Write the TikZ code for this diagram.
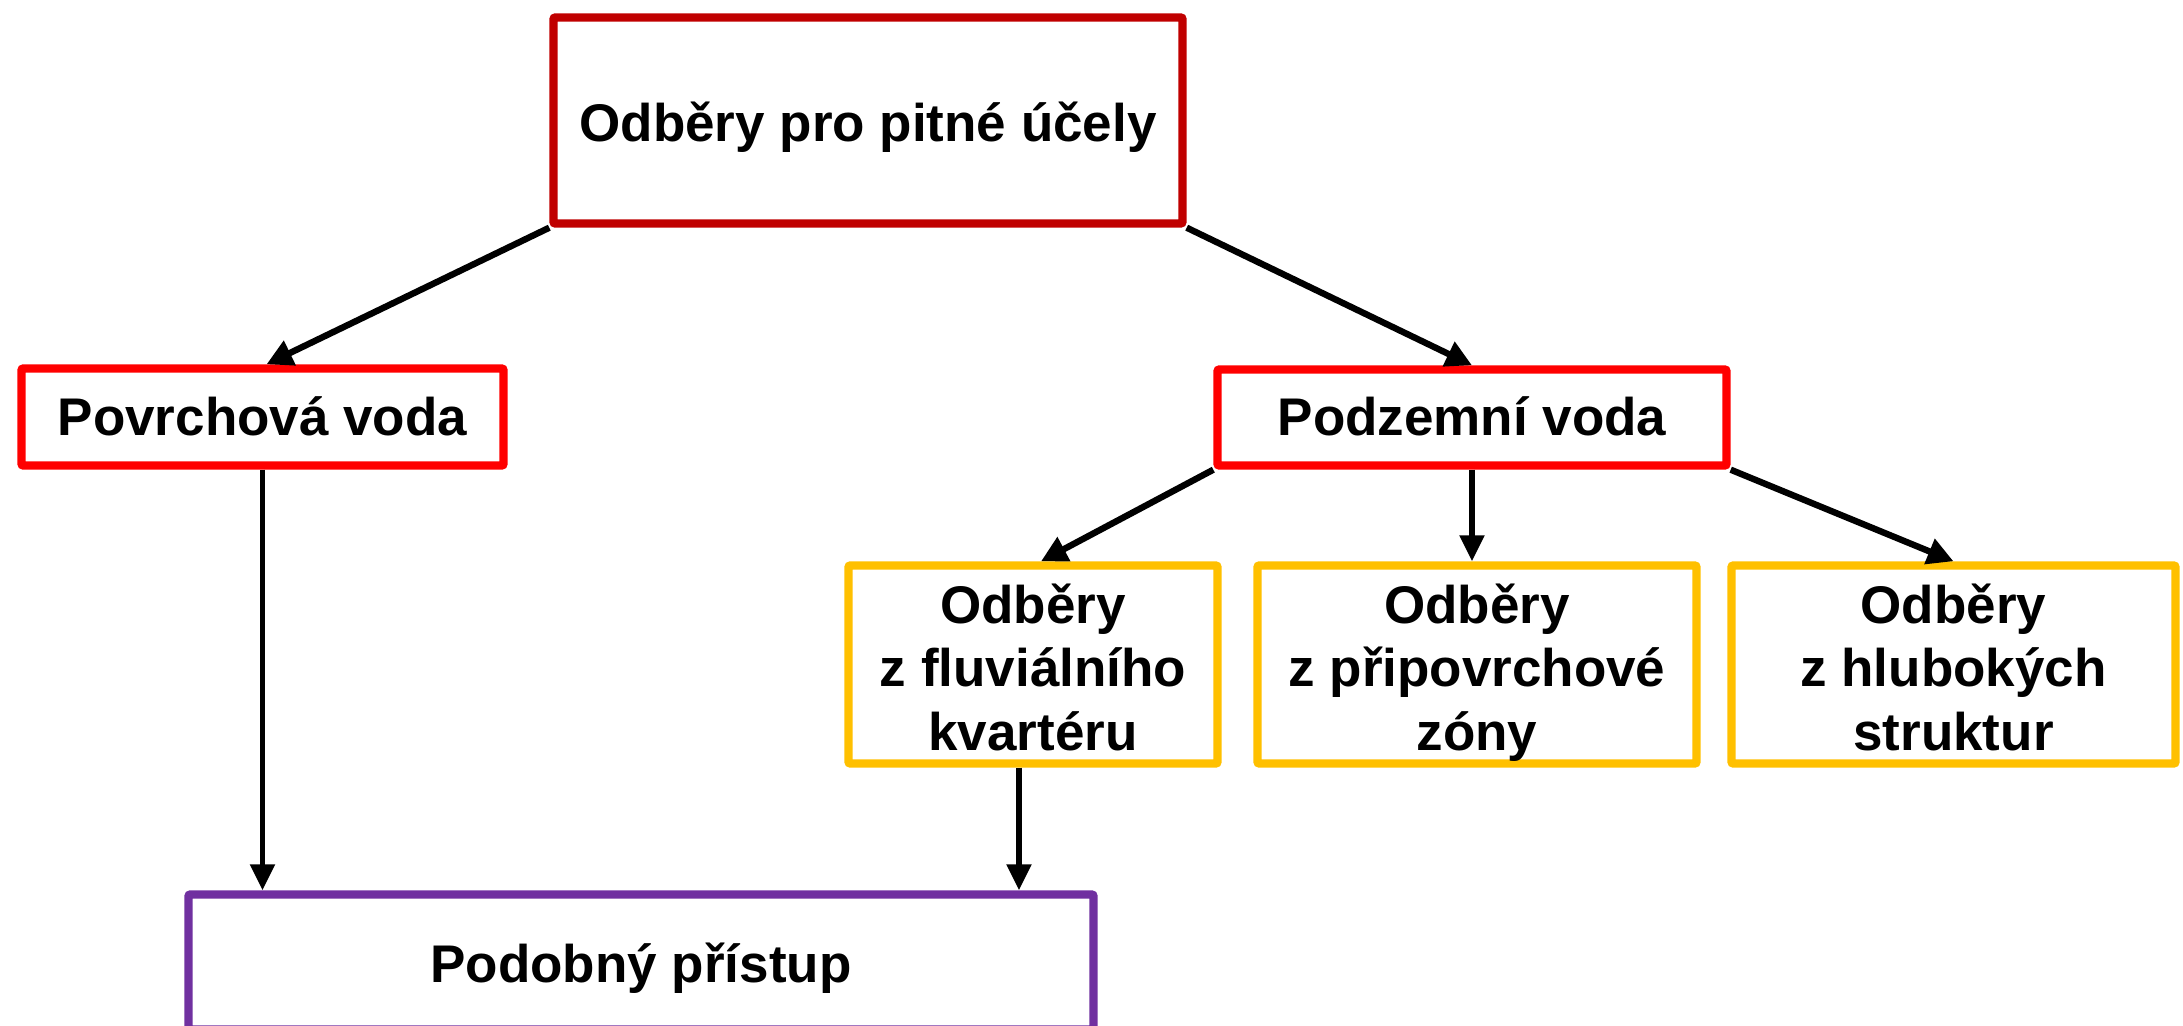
\documentclass[tikz,border=0pt]{standalone}
\usepackage{fontspec}
\setmainfont{Liberation Sans}
\usetikzlibrary{arrows.meta}
\definecolor{topred}{HTML}{C00000}
\definecolor{midred}{HTML}{FF0000}
\definecolor{ambr}{HTML}{FFC000}
\definecolor{purp}{HTML}{7030A0}
\newcommand{\ctext}[2]{\raisebox{-#1}[0pt][0pt]{#2}}
\newcommand{\mtext}[2]{\raisebox{-#1}[0pt][0pt]{\begin{tabular}[b]{@{}c@{}}#2\end{tabular}}}
\begin{document}
\begin{tikzpicture}[x=0.5pt,y=-0.5pt,
  box/.style={draw, line width=4.2pt, fill=white, align=center,
    font=\bfseries\fontsize{26.5}{31.75}\selectfont, inner sep=0pt, rounded corners=1pt},
  conn/.style={line width=3.2pt, -{Triangle[length=13pt,width=13pt]}},
  vconn/.style={line width=2.6pt, -{Triangle[length=13pt,width=12pt]}}]
\useasboundingbox (0,0) rectangle (2183,1026);
\begin{scope}
\clip (0,0) rectangle (2183,1026);
\node[box, draw=topred, minimum width=314.5pt, minimum height=103pt] (top) at (868,120.5) {\ctext{10.75pt}{Odběry pro pitné účely}};
\node[box, draw=midred, minimum width=241pt, minimum height=48.5pt] (pov) at (262.5,417) {\ctext{9pt}{Povrchová voda}};
\node[box, draw=midred, minimum width=254.5pt, minimum height=48pt] (pod) at (1472,417.5) {\ctext{9pt}{Podzemní voda}};
\node[box, draw=ambr, minimum width=184.5pt, minimum height=99pt] (y1) at (1033,664.5) {\mtext{42.75pt}{Odběry\\z fluviálního\\kvartéru}};
\node[box, draw=ambr, minimum width=219.5pt, minimum height=99pt] (y2) at (1477,664.5) {\mtext{42.75pt}{Odběry\\z připovrchové\\zóny}};
\node[box, draw=ambr, minimum width=222pt, minimum height=99pt] (y3) at (1953.5,664.5) {\mtext{42.75pt}{Odběry\\z hlubokých\\struktur}};
\node[box, draw=purp, minimum width=452.5pt, minimum height=67.5pt] (pur) at (641,962) {\ctext{10pt}{Podobný přístup}};
\end{scope}
\draw[conn] (top.south west) -- ([xshift=2pt]pov.north);
\draw[conn] (top.south east) -- (pod.north);
\draw[conn] (pod.south west) -- ([xshift=4pt]y1.north);
\draw[vconn] (pod.south) -- (y2.north -| pod.south);
\draw[conn] (pod.south east) -- (y3.north);
\draw[vconn] (pov.south) -- (pov.south |- pur.north);
\draw[vconn] ([xshift=-7pt]y1.south) -- ([xshift=-7pt]y1.south |- pur.north);
\end{tikzpicture}
\end{document}
